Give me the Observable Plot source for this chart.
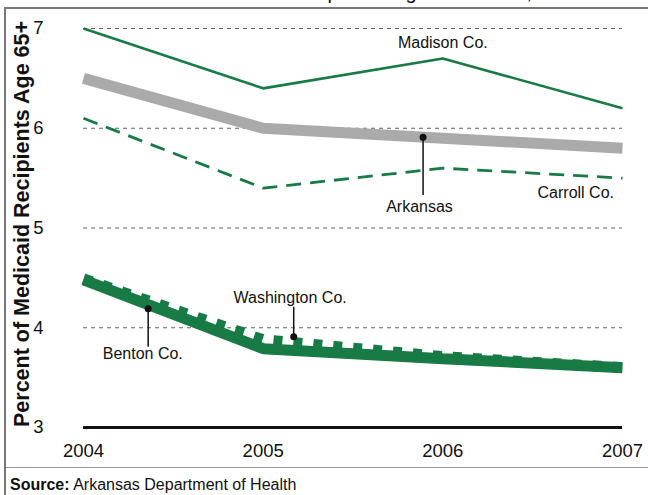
<!DOCTYPE html>
<html><head><meta charset="utf-8">
<script src="https://cdn.jsdelivr.net/npm/d3@7"></script>
<script src="https://cdn.jsdelivr.net/npm/@observablehq/plot@0.6"></script>
<style>
body{margin:0;width:648px;height:495px;overflow:hidden;position:relative;font-family:"Liberation Sans",Arial,Helvetica,sans-serif;background:#fff}
#title{position:absolute;left:0;top:-19px;width:648px;text-align:center;font-size:20px;line-height:22px;padding-left:60px;box-sizing:border-box;color:#111;white-space:nowrap}
#frame{position:absolute;left:4px;top:7px;width:700px;height:600px;border:2px solid #777}
#chart{position:absolute;left:0;top:8px}
#sep{position:absolute;left:6px;top:467px;width:642px;height:1px;background:#999}
#source{position:absolute;left:10px;top:476px;font-size:16px;color:#111}
</style></head>
<body>
<div id="title">Medicaid Enrollees 65+ as a percentage of the total, 2004–2007</div>
<div id="frame"></div>
<div id="chart"></div>
<div id="sep"></div>
<div id="source"><b>Source:</b> Arkansas Department of Health</div>
<script>
const years = [2004, 2005, 2006, 2007];
const madison = [7.0, 6.4, 6.7, 6.2];
const arkansas = [6.5, 6.0, 5.9, 5.8];
const carroll = [6.1, 5.4, 5.6, 5.5];
const benton = [4.48, 3.79, 3.69, 3.6];
const washington = [4.49, 3.88, 3.71, 3.6];
const yTicks = [3, 4, 5, 6, 7];
const gridValues = [4, 5, 6, 7];
const yTitle = "Percent of Medicaid Recipients Age 65+";
const labels = [
  {name: "Madison Co.", x: 2006.0, y: 6.86},
  {name: "Carroll Co.", x: 2006.74, y: 5.35},
  {name: "Arkansas", x: 2005.87, y: 5.21},
  {name: "Washington Co.", x: 2005.15, y: 4.30},
  {name: "Benton Co.", x: 2004.33, y: 3.74}
];
const leaders = [
  {x: 2005.89, y1: 5.91, y2: 5.33},
  {x: 2005.17, y1: 3.91, y2: 4.21},
  {x: 2004.36, y1: 4.19, y2: 3.81}
];

const rows = vals => years.map((yr, i) => ({year: yr, value: vals[i]}));
const green = "#187a45";

const chart = Plot.plot({
  width: 648,
  height: 458,
  marginLeft: 83,
  marginRight: 26,
  marginTop: 20,
  marginBottom: 39,
  style: {fontFamily: '"Liberation Sans", Arial, Helvetica, sans-serif', fontSize: "18.5px", color: "#111", background: "transparent"},
  x: {domain: [2004, 2007], ticks: years, tickFormat: d => String(d), tickSize: 0, tickPadding: 16, label: null},
  y: {domain: [3, 7], ticks: yTicks, tickFormat: d => String(d), tickSize: 0, tickPadding: 40, label: null},
  marks: [
    Plot.ruleY(gridValues, {x1: 2004, x2: 2007, stroke: "#666", strokeWidth: 1.2, strokeDasharray: "4,4"}),
    Plot.ruleY([3], {x1: 2004, x2: 2007, stroke: "#111", strokeWidth: 3}),
    Plot.lineY(rows(arkansas), {x: "year", y: "value", stroke: "#aaaaaa", strokeWidth: 11, strokeLinecap: "butt", strokeLinejoin: "miter"}),
    Plot.lineY(rows(madison), {x: "year", y: "value", stroke: green, strokeWidth: 2.6, strokeLinecap: "butt", strokeLinejoin: "miter"}),
    Plot.lineY(rows(carroll), {x: "year", y: "value", stroke: green, strokeWidth: 2.8, strokeDasharray: "15,9", strokeLinecap: "butt"}),
    Plot.lineY(rows(benton), {x: "year", y: "value", stroke: green, strokeWidth: 11, strokeLinecap: "butt", strokeLinejoin: "miter"}),
    Plot.lineY(rows(washington), {x: "year", y: "value", stroke: green, strokeWidth: 11, strokeDasharray: "9,11", strokeLinecap: "butt"}),
    Plot.link(leaders, {x1: "x", x2: "x", y1: "y1", y2: "y2", stroke: "#111", strokeWidth: 1.5}),
    Plot.dot(leaders, {x: "x", y: "y1", r: 3.5, fill: "#111", stroke: "none"}),
    Plot.text(labels, {x: "x", y: "y", text: "name", fontSize: 16, fill: "#111"}),
    Plot.text([yTitle], {frameAnchor: "left", textAnchor: "middle", dx: -61, dy: -4, rotate: -90, fontSize: 21.5, fontWeight: "bold", fill: "#111"})
  ]
});
document.getElementById("chart").appendChild(chart);
</script>
</body></html>
